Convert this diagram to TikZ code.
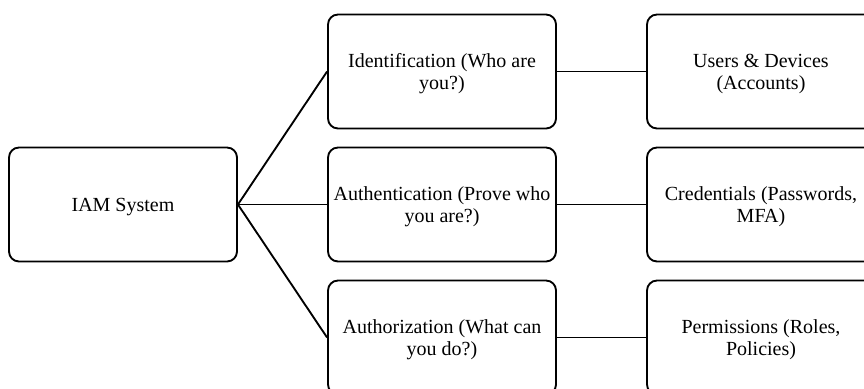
\documentclass[tikz,border=0pt]{standalone}
\usepackage{fontspec}
\setmainfont{Liberation Serif}
\newcommand\boxtext[1]{\raisebox{-2.25pt}[\height][\depth]{\begin{tabular}{@{}c@{}}#1\end{tabular}}}
\begin{document}
\begin{tikzpicture}[x=0.75pt,y=-0.75pt,
  box/.style={draw, line width=1.4pt, rounded corners=7.5pt,
    minimum width=171pt, minimum height=85.5pt, inner sep=2pt,
    align=center, font=\fontsize{15}{16.5}\selectfont},
  link/.style={line width=1.4pt}]
\useasboundingbox (0,0) rectangle (864,389);
\clip (0,0) rectangle (864,389);
\node[box] (iam) at (123,204.5) {\boxtext{IAM System}};
\node[box] (id) at (442,71.5) {\boxtext{Identification (Who are\\you?)}};
\node[box] (authn) at (442,204.5) {\boxtext{Authentication (Prove who\\you are?)}};
\node[box] (authz) at (442,337.5) {\boxtext{Authorization (What can\\you do?)}};
\node[box] (users) at (761,71.5) {\boxtext{Users \& Devices\\(Accounts)}};
\node[box] (cred) at (761,204.5) {\boxtext{Credentials (Passwords,\\MFA)}};
\node[box] (perm) at (761,337.5) {\boxtext{Permissions (Roles,\\Policies)}};
\draw[link] (iam.east) -- (id.west);
\draw[link] (iam.east) -- (authn.west);
\draw[link] (iam.east) -- (authz.west);
\draw[link] (id.east) -- (users.west);
\draw[link] (authn.east) -- (cred.west);
\draw[link] (authz.east) -- (perm.west);
\end{tikzpicture}
\end{document}
